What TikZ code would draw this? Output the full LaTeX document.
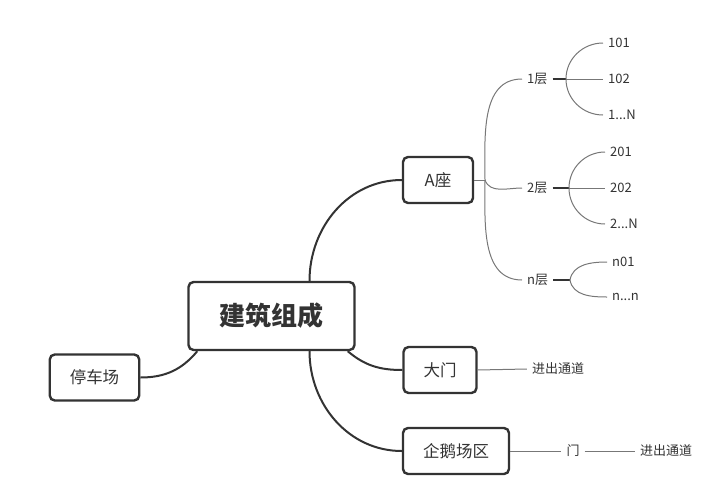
\documentclass[tikz,border=0pt]{standalone}
\usepackage{fontspec}
\setmainfont{Noto Sans CJK SC}
\usepackage{tikz}
\definecolor{inkline}{HTML}{333333}
\definecolor{twigline}{HTML}{777777}

\begin{document}
\begin{tikzpicture}[x=1pt, y=1pt,
    topic/.style={draw=inkline, line width=2.4pt, rounded corners=5pt, fill=white,
      minimum height=46pt, inner xsep=20pt, text=inkline, font=\fontsize{16.5}{18}\selectfont},
    root/.style={topic, minimum height=68pt, inner xsep=31pt, font=\bfseries\fontsize{26}{28}\selectfont},
    leaf/.style={inner xsep=5pt, inner ysep=2pt, text=inkline, font=\fontsize{13}{15}\selectfont},
    branch/.style={draw=inkline, line width=2pt},
    twig/.style={draw=twigline, line width=1pt},
    stub/.style={draw=inkline, line width=1.8pt}]
  \useasboundingbox (0,0) rectangle (724,-504);

  % main topics
  \node [root]  (build)   at (271.5,-316) {建筑组成};
  \node [topic, minimum width=70pt] (seatA) at (438,-180) {A座};
  \node [topic] (gate)    at (440,-370)   {大门};
  \node [topic] (penguin) at (456,-451)   {企鹅场区};
  \node [topic] (parking) at (94.5,-377.5) {停车场};

  \draw [branch] ([xshift=38pt]build.north)      to[out=90,in=180]   (seatA.west);
  \draw [branch] ([xshift=-8pt]build.south east) to[out=-40,in=180]  (gate.west);
  \draw [branch] ([xshift=38pt]build.south)      to[out=-90,in=180]  (penguin.west);
  \draw [branch] (parking.east) to[out=0,in=-130] ([xshift=10pt]build.south west);

  % A座 floors
  \coordinate (forkA) at (485,-180);
  \node [leaf, anchor=west] (floor1) at (522,-79)  {1层};
  \node [leaf, anchor=west] (floor2) at (522,-188) {2层};
  \node [leaf, anchor=west] (floorn) at (522,-280) {n层};
  \draw [twig] (seatA.east) -- (forkA);
  \draw [twig] (forkA) to[out=90,in=180]  (floor1.west);
  \draw [twig] (forkA) to[out=-70,in=180] (floor2.west);
  \draw [twig] (forkA) to[out=-90,in=180] (floorn.west);

  % rooms
  \coordinate (fork1) at (566,-79);
  \node [leaf, anchor=west] (r101) at (603,-43)  {101};
  \node [leaf, anchor=west] (r102) at (603,-79)  {102};
  \node [leaf, anchor=west] (r1N)  at (603,-115) {1...N};
  \draw [stub] (floor1.east) -- (fork1);
  \draw [twig] (fork1) to[out=90,in=180]  (r101.west);
  \draw [twig] (fork1) -- (r102.west);
  \draw [twig] (fork1) to[out=-90,in=180] (r1N.west);

  \coordinate (fork2) at (569,-188);
  \node [leaf, anchor=west] (r201) at (605,-152) {201};
  \node [leaf, anchor=west] (r202) at (605,-188) {202};
  \node [leaf, anchor=west] (r2N)  at (605,-224) {2...N};
  \draw [stub] (floor2.east) -- (fork2);
  \draw [twig] (fork2) to[out=90,in=180]  (r201.west);
  \draw [twig] (fork2) -- (r202.west);
  \draw [twig] (fork2) to[out=-90,in=180] (r2N.west);

  \coordinate (forkn) at (570,-280);
  \node [leaf, anchor=west] (rn01) at (607,-262) {n01};
  \node [leaf, anchor=west] (rnn)  at (607,-297) {n...n};
  \draw [stub] (floorn.east) -- (forkn);
  \draw [twig] (forkn) to[out=80,in=180]  (rn01.west);
  \draw [twig] (forkn) to[out=-80,in=180] (rnn.west);

  % gate and penguin area
  \node [leaf] (gatepass) at (558,-369) {进出通道};
  \draw [twig] (gate.east) -- (gatepass.west);

  \node [leaf] (pdoor) at (573,-451) {门};
  \node [leaf] (ppass) at (666,-451) {进出通道};
  \draw [twig] (penguin.east) -- (pdoor.west);
  \draw [twig] (pdoor.east) -- (ppass.west);
\end{tikzpicture}
\end{document}
